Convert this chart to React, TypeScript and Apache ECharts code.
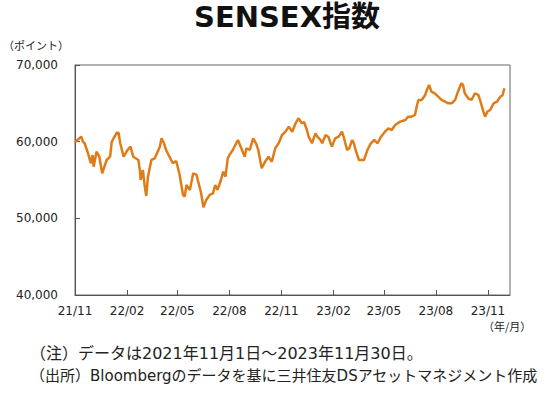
import React, { useEffect, useRef } from "react";
import * as echarts from "echarts";

const titleText = "SENSEX指数";
const yUnit = "（ポイント）";
const xUnit = "（年/月）";
const note1 = "（注）データは2021年11月1日～2023年11月30日。";
const note2 = "（出所）Bloombergのデータを基に三井住友DSアセットマネジメント作成";

const tickDates = [
  "2021-11-01", "2022-02-01", "2022-05-01", "2022-08-01", "2022-11-01",
  "2023-02-01", "2023-05-01", "2023-08-01", "2023-11-01",
];
const axisStart = "2021-11-01";
const axisEnd = "2023-12-10";
const yTicks = [40000, 50000, 60000, 70000];

const dates = [
  "2021-11-01","2021-11-12","2021-11-15","2021-11-18","2021-11-24","2021-11-29",
  "2021-12-02","2021-12-04","2021-12-09","2021-12-14","2021-12-19","2021-12-27",
  "2022-01-02","2022-01-05","2022-01-14","2022-01-17","2022-01-20","2022-01-26",
  "2022-02-02","2022-02-07","2022-02-12","2022-02-21","2022-02-24","2022-02-25",
  "2022-03-01","2022-03-04","2022-03-07","2022-03-10","2022-03-16","2022-03-22","2022-03-31",
  "2022-04-03","2022-04-07","2022-04-11","2022-04-17","2022-04-23","2022-04-29",
  "2022-05-05","2022-05-11","2022-05-14","2022-05-17","2022-05-23","2022-05-29",
  "2022-06-04","2022-06-06","2022-06-12","2022-06-16","2022-06-21","2022-06-27",
  "2022-07-03","2022-07-07","2022-07-11","2022-07-17","2022-07-21","2022-07-25","2022-07-29",
  "2022-08-01","2022-08-07","2022-08-13","2022-08-16","2022-08-22","2022-08-28","2022-08-31",
  "2022-09-06","2022-09-12","2022-09-17","2022-09-21","2022-09-27",
  "2022-10-03","2022-10-09","2022-10-15","2022-10-21","2022-10-27",
  "2022-11-02","2022-11-08","2022-11-14","2022-11-20","2022-11-26",
  "2022-12-01","2022-12-07","2022-12-11","2022-12-16","2022-12-19","2022-12-25","2022-12-31",
  "2023-01-04","2023-01-09","2023-01-12","2023-01-18","2023-01-23","2023-01-29",
  "2023-02-04","2023-02-10","2023-02-16","2023-02-19","2023-02-25",
  "2023-03-01","2023-03-06","2023-03-09","2023-03-12","2023-03-15","2023-03-18","2023-03-24","2023-03-27",
  "2023-04-02","2023-04-08","2023-04-14","2023-04-20","2023-04-26",
  "2023-05-03","2023-05-09","2023-05-15","2023-05-21","2023-05-30",
  "2023-06-08","2023-06-13","2023-06-19","2023-06-25","2023-06-28",
  "2023-07-01","2023-07-07","2023-07-13","2023-07-16","2023-07-20","2023-07-24","2023-07-30",
  "2023-08-05","2023-08-11","2023-08-17","2023-08-23","2023-08-29",
  "2023-09-04","2023-09-09","2023-09-15","2023-09-18","2023-09-21","2023-09-27",
  "2023-10-03","2023-10-09","2023-10-15","2023-10-18","2023-10-24","2023-10-27","2023-10-31",
  "2023-11-05","2023-11-11","2023-11-17","2023-11-23","2023-11-27","2023-11-30",
];

const sensex = [
  59920, 60650, 60000, 59790, 58490, 57180,
  58260, 56740, 58690, 58040, 55880, 57610,
  58040, 60000, 61170, 61170, 59790, 58040,
  58920, 59350, 58040, 57610, 56090, 55000,
  56310, 54350, 52920, 55440, 57610, 57830, 59350,
  60440, 59830, 58920, 58040, 57180, 57480,
  55660, 53050, 52830, 54350, 53700, 55880,
  55660, 55000, 53270, 51440, 52400, 53050,
  53270, 54350, 53700, 55000, 56090, 55440, 57830,
  58260, 58920, 59790, 60220, 59140, 58040, 59140,
  58920, 60440, 59790, 58920, 56530,
  57390, 58040, 57390, 59140, 59790,
  60870, 61300, 61960, 61300, 62400,
  63050, 62400, 62570, 61520, 60650, 59790, 61090,
  60610, 60220, 59790, 60870, 60610, 59350,
  60440, 60650, 61300, 60610, 58920,
  59180, 60220, 59790, 58920, 58260, 57610, 57610, 57610,
  58920, 59790, 60220, 59790, 60650,
  61300, 61740, 61520, 62180, 62610,
  62830, 63260, 63260, 63480, 64560,
  65440, 65440, 66090, 66740, 67390, 66520, 66310,
  65870, 65440, 65210, 65000, 65000,
  65440, 66520, 67610, 67390, 66310, 65660,
  65440, 66310, 66090, 65440, 63910, 63260, 63910,
  64130, 65000, 65210, 65870, 66090, 66960,
];

function ts(s: string): number {
  const [y, m, d] = s.split("-").map(Number);
  return Date.UTC(y, m - 1, d);
}

export default function App() {
  const ref = useRef<HTMLDivElement>(null);
  useEffect(() => {
    if (!ref.current) return;
    const chart = echarts.init(ref.current, null, { renderer: "svg" });
    const numFont = "DejaVu Sans";
    const jpFont = "'Noto Sans CJK JP'";
    const mixFont = "'DejaVu Sans', 'Noto Sans CJK JP'";
    const tickTs = tickDates.map(ts);
    chart.setOption({
      animation: false,
      backgroundColor: "#ffffff",
      title: {
        text: titleText,
        left: 189,
        top: -3,
        textStyle: {
          fontFamily: "'DejaVu Sans', 'Noto Sans CJK JP'",
          fontWeight: "bold",
          fontSize: 29,
          color: "#111111",
        },
      },
      grid: {
        left: 75,
        right: 40,
        top: 65,
        bottom: 102,
        show: true,
        borderColor: "#666666",
        borderWidth: 1,
        containLabel: false,
      },
      xAxis: {
        type: "value",
        min: ts(axisStart),
        max: ts(axisEnd),
        splitLine: { show: false },
        axisLine: { show: true, lineStyle: { color: "#555555", width: 1 } },
        axisTick: {
          show: true,
          inside: true,
          length: 5,
          customValues: tickTs,
          lineStyle: { color: "#555555" },
        },
        axisLabel: {
          customValues: tickTs,
          showMinLabel: true,
          showMaxLabel: true,
          hideOverlap: false,
          margin: 10,
          fontFamily: numFont,
          fontSize: 12,
          color: "#222222",
          formatter: (v: number) => {
            const d = new Date(v);
            const yy = String(d.getUTCFullYear() % 100).padStart(2, "0");
            const mm = String(d.getUTCMonth() + 1).padStart(2, "0");
            return `${yy}/${mm}`;
          },
        },
      },
      yAxis: {
        type: "value",
        min: yTicks[0],
        max: yTicks[yTicks.length - 1],
        interval: 10000,
        splitLine: { show: false },
        axisLine: { show: true, lineStyle: { color: "#555555", width: 1 } },
        axisTick: { show: true, inside: true, length: 5, lineStyle: { color: "#555555" } },
        axisLabel: {
          margin: 17,
          fontFamily: numFont,
          fontSize: 12,
          color: "#222222",
          formatter: (v: number) => v.toLocaleString("en-US"),
        },
      },
      series: [
        {
          type: "line",
          data: dates.map((d, i) => [ts(d), sensex[i]]),
          showSymbol: false,
          symbol: "none",
          lineStyle: { color: "#E07C17", width: 2.5 },
        },
      ],
      graphic: [
        {
          type: "text",
          left: 3,
          top: 39,
          style: { text: yUnit, font: `11px ${jpFont}`, fill: "#222222" },
        },
        {
          type: "text",
          left: 483,
          top: 320,
          style: { text: xUnit, font: `11px ${jpFont}`, fill: "#222222" },
        },
        {
          type: "text",
          left: 30,
          top: 345,
          style: { text: note1, font: `16px ${mixFont}`, fill: "#222222" },
        },
        {
          type: "text",
          left: 30,
          top: 368,
          style: { text: note2, font: `15px ${mixFont}`, fill: "#222222" },
        },
      ],
    });
    return () => chart.dispose();
  }, []);
  return (
    <div
      ref={ref}
      style={{ position: "fixed", left: 0, top: 0, width: 550, height: 397 }}
    />
  );
}
